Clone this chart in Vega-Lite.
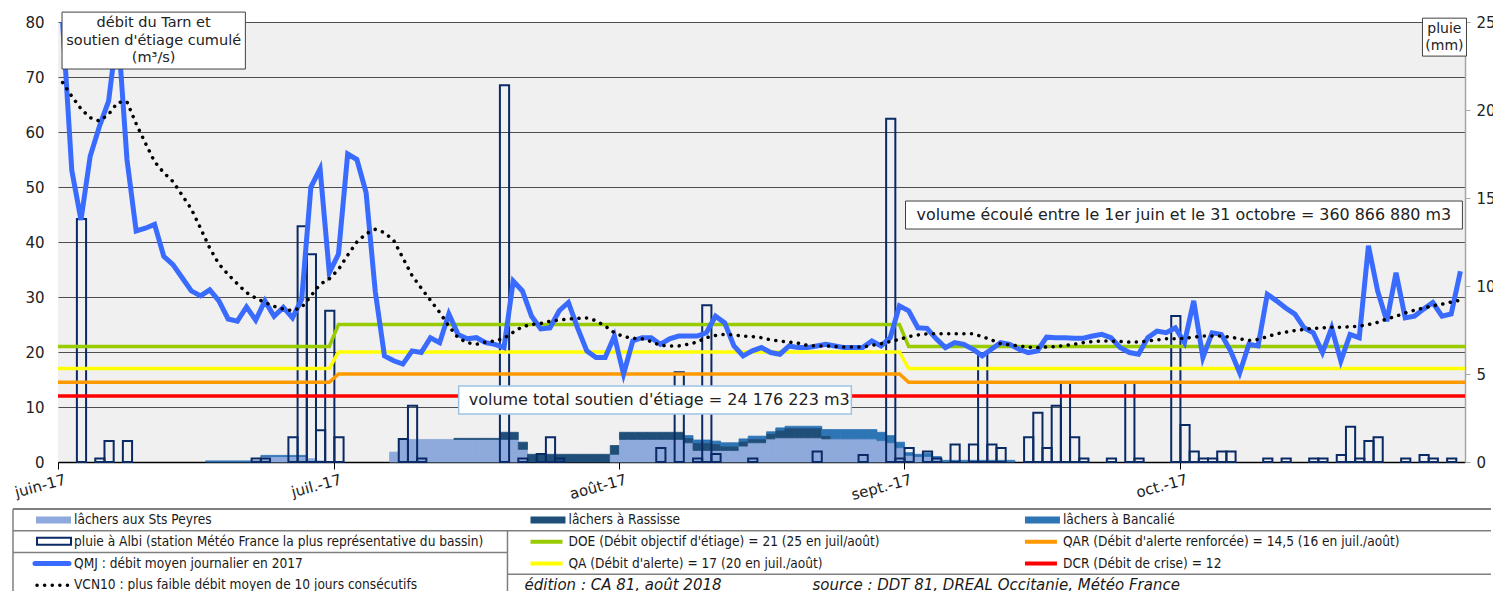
{
  "$schema": "https://vega.github.io/schema/vega-lite/v6.json",
  "padding": {"left": 12, "top": 11, "right": 0, "bottom": 0},
  "config": {"view": {"stroke": null}, "font": "DejaVu Sans", "axis": {"labelFont": "DejaVu Sans", "labelColor": "#222222"}},
  "resolve": {"scale": {"color": "independent"}},
  "datasets": {
    "daily": [
      {"d": "2017-06-01", "qmj": 80, "vcn": 69},
      {"d": "2017-06-02", "qmj": 53, "vcn": 66.5},
      {"d": "2017-06-03", "qmj": 44, "vcn": 64.2, "pluie": 13.8},
      {"d": "2017-06-04", "qmj": 55.6, "vcn": 62.6},
      {"d": "2017-06-05", "qmj": 61, "vcn": 62, "pluie": 0.2},
      {"d": "2017-06-06", "qmj": 65.6, "vcn": 63.2, "pluie": 1.2},
      {"d": "2017-06-07", "qmj": 79, "vcn": 65.4},
      {"d": "2017-06-08", "qmj": 55, "vcn": 65.5, "pluie": 1.2},
      {"d": "2017-06-09", "qmj": 42, "vcn": 61.5},
      {"d": "2017-06-10", "qmj": 42.5, "vcn": 58},
      {"d": "2017-06-11", "qmj": 43.2, "vcn": 54.6},
      {"d": "2017-06-12", "qmj": 37.4, "vcn": 52.6},
      {"d": "2017-06-13", "qmj": 35.9, "vcn": 51},
      {"d": "2017-06-14", "qmj": 33.5, "vcn": 48.5},
      {"d": "2017-06-15", "qmj": 31.1, "vcn": 46},
      {"d": "2017-06-16", "qmj": 30.2, "vcn": 42.5},
      {"d": "2017-06-17", "qmj": 31.3, "vcn": 38.9, "ban": 0.2},
      {"d": "2017-06-18", "qmj": 29.3, "vcn": 36, "ban": 0.2},
      {"d": "2017-06-19", "qmj": 26, "vcn": 34.1, "ban": 0.2},
      {"d": "2017-06-20", "qmj": 25.6, "vcn": 32.4, "ban": 0.2},
      {"d": "2017-06-21", "qmj": 28.2, "vcn": 30.8, "ban": 0.2},
      {"d": "2017-06-22", "qmj": 25.8, "vcn": 29.8, "pluie": 0.2, "ban": 0.2},
      {"d": "2017-06-23", "qmj": 29.3, "vcn": 29, "pluie": 0.2, "sp": 1.0, "ban": 0.2},
      {"d": "2017-06-24", "qmj": 26.5, "vcn": 28.3, "sp": 1.0, "ban": 0.2},
      {"d": "2017-06-25", "qmj": 28.1, "vcn": 27.8, "sp": 1.0, "ban": 0.2},
      {"d": "2017-06-26", "qmj": 26.2, "vcn": 27.5, "pluie": 1.4, "sp": 1.0, "ban": 0.2},
      {"d": "2017-06-27", "qmj": 29.6, "vcn": 28.1, "pluie": 13.4, "sp": 1.0, "ban": 0.2},
      {"d": "2017-06-28", "qmj": 50, "vcn": 30.2, "pluie": 11.8, "sp": 0.6},
      {"d": "2017-06-29", "qmj": 53.3, "vcn": 32.3, "pluie": 1.8, "sp": 0.2},
      {"d": "2017-06-30", "qmj": 34.4, "vcn": 33.3, "pluie": 8.6},
      {"d": "2017-07-01", "qmj": 37.8, "vcn": 35, "pluie": 1.4},
      {"d": "2017-07-02", "qmj": 56, "vcn": 37.6},
      {"d": "2017-07-03", "qmj": 55, "vcn": 40},
      {"d": "2017-07-04", "qmj": 49, "vcn": 41.5},
      {"d": "2017-07-05", "qmj": 31, "vcn": 42.3},
      {"d": "2017-07-06", "qmj": 19.3, "vcn": 41.7},
      {"d": "2017-07-07", "qmj": 18.4, "vcn": 40.3, "sp": 1.8},
      {"d": "2017-07-08", "qmj": 17.8, "vcn": 37.1, "pluie": 1.3, "sp": 4.1},
      {"d": "2017-07-09", "qmj": 20.2, "vcn": 33.9, "pluie": 3.2, "sp": 4.1},
      {"d": "2017-07-10", "qmj": 19.9, "vcn": 31.6, "pluie": 0.2, "sp": 4.1},
      {"d": "2017-07-11", "qmj": 22.6, "vcn": 29.4, "sp": 4.1},
      {"d": "2017-07-12", "qmj": 21.7, "vcn": 27.2, "sp": 4.1},
      {"d": "2017-07-13", "qmj": 26.9, "vcn": 24.7, "sp": 4.1},
      {"d": "2017-07-14", "qmj": 23.2, "vcn": 22.6, "sp": 4.1, "ras": 0.2},
      {"d": "2017-07-15", "qmj": 22.4, "vcn": 21.7, "sp": 4.1, "ras": 0.2},
      {"d": "2017-07-16", "qmj": 22.6, "vcn": 21.4, "sp": 4.1, "ras": 0.2},
      {"d": "2017-07-17", "qmj": 21.7, "vcn": 21.8, "sp": 4.1, "ras": 0.2},
      {"d": "2017-07-18", "qmj": 21.4, "vcn": 22, "sp": 4.1, "ras": 0.2},
      {"d": "2017-07-19", "qmj": 20.8, "vcn": 22.5, "pluie": 21.4, "sp": 4.1, "ras": 1.3},
      {"d": "2017-07-20", "qmj": 32.9, "vcn": 23.6, "sp": 4.1, "ras": 1.3},
      {"d": "2017-07-21", "qmj": 31.1, "vcn": 24.6, "pluie": 0.2, "sp": 2.3, "ras": 1.3},
      {"d": "2017-07-22", "qmj": 26.5, "vcn": 25, "ras": 1.4},
      {"d": "2017-07-23", "qmj": 24.2, "vcn": 25.2, "pluie": 0.45, "ras": 1.4},
      {"d": "2017-07-24", "qmj": 24.4, "vcn": 25.6, "pluie": 1.4, "ras": 1.4},
      {"d": "2017-07-25", "qmj": 27.5, "vcn": 25.8, "pluie": 0.2, "ras": 1.4},
      {"d": "2017-07-26", "qmj": 29, "vcn": 26, "ras": 1.4},
      {"d": "2017-07-27", "qmj": 24.4, "vcn": 26.1, "ras": 1.4},
      {"d": "2017-07-28", "qmj": 20.2, "vcn": 26.2, "ras": 1.4},
      {"d": "2017-07-29", "qmj": 19, "vcn": 25.7, "ras": 1.4},
      {"d": "2017-07-30", "qmj": 19, "vcn": 24.7, "ras": 1.4},
      {"d": "2017-07-31", "qmj": 22.9, "vcn": 23.5, "sp": 1.4, "ras": 1.6},
      {"d": "2017-08-01", "qmj": 16, "vcn": 22.8, "sp": 4.1, "ras": 1.3},
      {"d": "2017-08-02", "qmj": 22, "vcn": 22.5, "sp": 4.1, "ras": 1.3},
      {"d": "2017-08-03", "qmj": 22.6, "vcn": 22.4, "sp": 4.1, "ras": 1.3},
      {"d": "2017-08-04", "qmj": 22.6, "vcn": 21.9, "sp": 4.1, "ras": 1.3},
      {"d": "2017-08-05", "qmj": 21.4, "vcn": 21.2, "pluie": 0.8, "sp": 4.1, "ras": 1.3},
      {"d": "2017-08-06", "qmj": 22.4, "vcn": 21.1, "sp": 4.1, "ras": 1.3},
      {"d": "2017-08-07", "qmj": 22.9, "vcn": 21.1, "pluie": 5.1, "sp": 4.1, "ras": 1.3},
      {"d": "2017-08-08", "qmj": 22.9, "vcn": 21.4, "sp": 3.5, "ras": 0.9, "ban": 0.4},
      {"d": "2017-08-09", "qmj": 22.9, "vcn": 21.8, "pluie": 0.2, "sp": 2.1, "ras": 1.4, "ban": 0.5},
      {"d": "2017-08-10", "qmj": 23.5, "vcn": 22.6, "pluie": 8.9, "sp": 2.1, "ras": 1.4, "ban": 0.5},
      {"d": "2017-08-11", "qmj": 26.5, "vcn": 23, "pluie": 0.45, "sp": 2.1, "ras": 1.2, "ban": 0.5},
      {"d": "2017-08-12", "qmj": 25.3, "vcn": 23.2, "sp": 2.1, "ras": 0.8, "ban": 0.6},
      {"d": "2017-08-13", "qmj": 21.1, "vcn": 23.1, "sp": 2.1, "ras": 0.8, "ban": 0.6},
      {"d": "2017-08-14", "qmj": 19.3, "vcn": 22.9, "sp": 2.9, "ras": 0.9, "ban": 0.4},
      {"d": "2017-08-15", "qmj": 20.2, "vcn": 22.8, "pluie": 0.2, "sp": 3.5, "ras": 0.7, "ban": 0.5},
      {"d": "2017-08-16", "qmj": 20.8, "vcn": 22.6, "sp": 3.5, "ras": 0.7, "ban": 0.5},
      {"d": "2017-08-17", "qmj": 19.9, "vcn": 22.2, "sp": 4.2, "ras": 1.0, "ban": 0.3},
      {"d": "2017-08-18", "qmj": 19.6, "vcn": 22, "sp": 4.4, "ras": 1.4, "ban": 0.4},
      {"d": "2017-08-19", "qmj": 21.1, "vcn": 21.8, "sp": 4.4, "ras": 1.8, "ban": 0.3},
      {"d": "2017-08-20", "qmj": 20.8, "vcn": 21.6, "sp": 4.4, "ras": 1.8, "ban": 0.3},
      {"d": "2017-08-21", "qmj": 20.8, "vcn": 21.2, "sp": 4.4, "ras": 1.8, "ban": 0.3},
      {"d": "2017-08-22", "qmj": 21.1, "vcn": 21.1, "pluie": 0.6, "sp": 4.4, "ras": 1.8, "ban": 0.3},
      {"d": "2017-08-23", "qmj": 21.4, "vcn": 21.1, "sp": 4.2, "ras": 0.6, "ban": 1.1},
      {"d": "2017-08-24", "qmj": 21.1, "vcn": 21, "sp": 4.2, "ban": 1.7},
      {"d": "2017-08-25", "qmj": 20.8, "vcn": 20.9, "sp": 4.2, "ban": 1.7},
      {"d": "2017-08-26", "qmj": 20.8, "vcn": 20.9, "sp": 4.2, "ban": 1.7},
      {"d": "2017-08-27", "qmj": 20.8, "vcn": 20.9, "pluie": 0.4, "sp": 4.2, "ban": 1.7},
      {"d": "2017-08-28", "qmj": 22, "vcn": 21.2, "sp": 4.2, "ban": 1.7},
      {"d": "2017-08-29", "qmj": 21.1, "vcn": 21.5, "sp": 3.9, "ban": 1.5},
      {"d": "2017-08-30", "qmj": 22.6, "vcn": 21.9, "pluie": 19.5, "sp": 3.5, "ban": 1.3},
      {"d": "2017-08-31", "qmj": 28.4, "vcn": 22.3, "pluie": 0.2, "sp": 2.6, "ban": 1.0},
      {"d": "2017-09-01", "qmj": 27.5, "vcn": 22.8, "pluie": 0.8, "sp": 1.2, "ban": 0.5},
      {"d": "2017-09-02", "qmj": 24.4, "vcn": 23.1, "sp": 1.0, "ban": 0.4},
      {"d": "2017-09-03", "qmj": 24.3, "vcn": 23.3, "pluie": 0.6, "sp": 1.0, "ban": 0.6},
      {"d": "2017-09-04", "qmj": 22.4, "vcn": 23.3, "pluie": 0.2, "sp": 0.6, "ban": 0.4},
      {"d": "2017-09-05", "qmj": 20.8, "vcn": 23.3, "ban": 0.3},
      {"d": "2017-09-06", "qmj": 21.7, "vcn": 23.3, "pluie": 1.0, "ban": 0.3},
      {"d": "2017-09-07", "qmj": 21.4, "vcn": 23.3, "ban": 0.3},
      {"d": "2017-09-08", "qmj": 20.5, "vcn": 23.3, "pluie": 1.0, "ban": 0.3},
      {"d": "2017-09-09", "qmj": 19.3, "vcn": 22.8, "pluie": 6.2, "ban": 0.3},
      {"d": "2017-09-10", "qmj": 20.5, "vcn": 22.2, "pluie": 1.0, "ban": 0.3},
      {"d": "2017-09-11", "qmj": 21.7, "vcn": 21.5, "pluie": 0.8, "ban": 0.3},
      {"d": "2017-09-12", "qmj": 21.4, "vcn": 21.3, "ban": 0.3},
      {"d": "2017-09-13", "qmj": 20.5, "vcn": 21.1},
      {"d": "2017-09-14", "qmj": 19.9, "vcn": 20.9, "pluie": 1.4},
      {"d": "2017-09-15", "qmj": 20.2, "vcn": 20.8, "pluie": 2.8},
      {"d": "2017-09-16", "qmj": 22.7, "vcn": 20.9, "pluie": 0.8},
      {"d": "2017-09-17", "qmj": 22.6, "vcn": 21, "pluie": 3.2},
      {"d": "2017-09-18", "qmj": 22.6, "vcn": 21.2, "pluie": 4.5},
      {"d": "2017-09-19", "qmj": 22.5, "vcn": 21.4, "pluie": 1.4},
      {"d": "2017-09-20", "qmj": 22.5, "vcn": 21.7, "pluie": 0.2},
      {"d": "2017-09-21", "qmj": 22.9, "vcn": 21.9},
      {"d": "2017-09-22", "qmj": 23.2, "vcn": 22},
      {"d": "2017-09-23", "qmj": 22.6, "vcn": 22, "pluie": 0.2},
      {"d": "2017-09-24", "qmj": 20.8, "vcn": 21.9},
      {"d": "2017-09-25", "qmj": 19.9, "vcn": 21.8, "pluie": 4.5},
      {"d": "2017-09-26", "qmj": 19.6, "vcn": 21.8, "pluie": 0.2},
      {"d": "2017-09-27", "qmj": 22.6, "vcn": 22},
      {"d": "2017-09-28", "qmj": 23.8, "vcn": 22.2},
      {"d": "2017-09-29", "qmj": 23.5, "vcn": 22.4},
      {"d": "2017-09-30", "qmj": 24.4, "vcn": 22.4, "pluie": 8.3},
      {"d": "2017-10-01", "qmj": 21.7, "vcn": 22.5, "pluie": 2.1},
      {"d": "2017-10-02", "qmj": 29.3, "vcn": 22.7, "pluie": 0.6},
      {"d": "2017-10-03", "qmj": 19, "vcn": 22.9, "pluie": 0.2},
      {"d": "2017-10-04", "qmj": 23.5, "vcn": 22.9, "pluie": 0.2},
      {"d": "2017-10-05", "qmj": 23.2, "vcn": 22.9, "pluie": 0.6},
      {"d": "2017-10-06", "qmj": 20.2, "vcn": 22.7, "pluie": 0.6},
      {"d": "2017-10-07", "qmj": 16.2, "vcn": 22.4},
      {"d": "2017-10-08", "qmj": 21.4, "vcn": 22.1},
      {"d": "2017-10-09", "qmj": 21.1, "vcn": 22.3},
      {"d": "2017-10-10", "qmj": 30.5, "vcn": 22.8, "pluie": 0.2},
      {"d": "2017-10-11", "qmj": 29.3, "vcn": 23.3},
      {"d": "2017-10-12", "qmj": 28, "vcn": 23.6, "pluie": 0.2},
      {"d": "2017-10-13", "qmj": 26.9, "vcn": 23.9},
      {"d": "2017-10-14", "qmj": 24.4, "vcn": 24.1},
      {"d": "2017-10-15", "qmj": 23.5, "vcn": 24.3, "pluie": 0.2},
      {"d": "2017-10-16", "qmj": 19.9, "vcn": 24.4, "pluie": 0.2},
      {"d": "2017-10-17", "qmj": 24.4, "vcn": 24.5},
      {"d": "2017-10-18", "qmj": 18.4, "vcn": 24.5, "pluie": 0.4},
      {"d": "2017-10-19", "qmj": 23.2, "vcn": 24.6, "pluie": 2.0},
      {"d": "2017-10-20", "qmj": 22.6, "vcn": 24.7, "pluie": 0.2},
      {"d": "2017-10-21", "qmj": 39.3, "vcn": 25, "pluie": 1.2},
      {"d": "2017-10-22", "qmj": 31.1, "vcn": 25.4, "pluie": 1.4},
      {"d": "2017-10-23", "qmj": 25.6, "vcn": 26},
      {"d": "2017-10-24", "qmj": 34.4, "vcn": 26.5},
      {"d": "2017-10-25", "qmj": 26.2, "vcn": 27.1, "pluie": 0.2},
      {"d": "2017-10-26", "qmj": 26.5, "vcn": 27.6},
      {"d": "2017-10-27", "qmj": 27.8, "vcn": 28, "pluie": 0.4},
      {"d": "2017-10-28", "qmj": 29, "vcn": 28.4, "pluie": 0.2},
      {"d": "2017-10-29", "qmj": 26.5, "vcn": 28.7},
      {"d": "2017-10-30", "qmj": 26.9, "vcn": 29.1, "pluie": 0.2},
      {"d": "2017-10-31", "qmj": 34.7, "vcn": 29.4}
    ],
    "seuils": [
      {"d": "2017-06-01T00:00:00Z", "doe": 21, "qa": 17, "qar": 14.5, "dcr": 12},
      {"d": "2017-06-30T12:00:00Z", "doe": 21, "qa": 17, "qar": 14.5, "dcr": 12},
      {"d": "2017-07-01T12:00:00Z", "doe": 25, "qa": 20, "qar": 16, "dcr": 12},
      {"d": "2017-08-31T12:00:00Z", "doe": 25, "qa": 20, "qar": 16, "dcr": 12},
      {"d": "2017-09-01T12:00:00Z", "doe": 21, "qa": 17, "qar": 14.5, "dcr": 12},
      {"d": "2017-11-01T00:00:00Z", "doe": 21, "qa": 17, "qar": 14.5, "dcr": 12}
    ],
    "legende": [
      {"col": 0, "row": 0, "serie": "sp", "label": "lâchers aux Sts Peyres"},
      {"col": 1, "row": 0, "serie": "ras", "label": "lâchers à Rassisse"},
      {"col": 2, "row": 0, "serie": "ban", "label": "lâchers à Bancalié"},
      {"col": 0, "row": 1, "serie": "pluie", "label": "pluie à Albi (station Météo France la plus représentative du bassin)"},
      {"col": 1, "row": 1, "serie": "doe", "label": "DOE (Débit objectif d'étiage) = 21 (25 en juil/août)"},
      {"col": 2, "row": 1, "serie": "qar", "label": "QAR (Débit d'alerte renforcée) = 14,5 (16 en juil./août)"},
      {"col": 0, "row": 2, "serie": "qmj", "label": "QMJ : débit moyen journalier en 2017"},
      {"col": 1, "row": 2, "serie": "qa", "label": "QA (Débit d'alerte) = 17 (20 en juil./août)"},
      {"col": 2, "row": 2, "serie": "dcr", "label": "DCR (Débit de crise) = 12"},
      {"col": 0, "row": 3, "serie": "vcn10", "label": "VCN10 : plus faible débit moyen de 10 jours consécutifs"},
      {"col": 1, "row": 3, "serie": "edition", "label": "édition : CA 81, août 2018"},
      {"col": 1, "row": 3, "serie": "source", "label": "source : DDT 81, DREAL Occitanie, Météo France"}
    ]
  },
  "vconcat": [
    {
      "width": 1407,
      "height": 440,
      "view": {"fill": "#F0F0F0", "stroke": null},
      "resolve": {"scale": {"y": "independent"}},
      "layer": [
        {
          "data": {"name": "daily"},
          "transform": [
            {"fold": ["sp", "ras", "ban"], "as": ["serie", "val"]},
            {"filter": "datum.val > 0"}
          ],
          "mark": {"type": "bar", "binSpacing": 0, "strokeWidth": 0.8},
          "encoding": {
            "x": {
              "field": "d", "type": "temporal", "timeUnit": "utcyearmonthdate",
              "scale": {"type": "utc", "domain": [{"year": 2017, "month": 6, "date": 1, "utc": true}, {"year": 2017, "month": 11, "date": 1, "utc": true}]},
              "axis": {
                "title": null,
                "values": [
                  {"year": 2017, "month": 6, "date": 1, "utc": true},
                  {"year": 2017, "month": 7, "date": 1, "utc": true},
                  {"year": 2017, "month": 8, "date": 1, "utc": true},
                  {"year": 2017, "month": 9, "date": 1, "utc": true},
                  {"year": 2017, "month": 10, "date": 1, "utc": true}
                ],
                "labelExpr": "['janv.','févr.','mars','avr.','mai','juin','juil.','août','sept.','oct.','nov.','déc.'][utcmonth(datum.value)] + '-17'",
                "labelAngle": -15,
                "labelAlign": "right",
                "labelBaseline": "top",
                "labelFontSize": 15,
                "labelPadding": 3,
                "labelOffset": 5,
                "labelOverlap": false,
                "tickSize": 7,
                "tickColor": "#000000",
                "domainColor": "#000000",
                "domainWidth": 1.5,
                "grid": false
              }
            },
            "y": {
              "field": "val", "type": "quantitative", "stack": "zero",
              "scale": {"domain": [0, 80], "nice": false},
              "axis": {
                "title": null, "orient": "left",
                "values": [0, 10, 20, 30, 40, 50, 60, 70, 80],
                "grid": true, "gridColor": "#4d4d4d", "gridWidth": 1,
                "domain": false, "ticks": false,
                "labelFontSize": 15, "labelPadding": 14,
                "minExtent": 45, "maxExtent": 45
              }
            },
            "color": {
              "field": "serie", "type": "nominal",
              "scale": {"domain": ["sp", "ras", "ban"], "range": ["#8EA9DB", "#1F4E79", "#2E75B6"]},
              "legend": null
            },
            "stroke": {
              "field": "serie", "type": "nominal",
              "scale": {"domain": ["sp", "ras", "ban"], "range": ["#8EA9DB", "#1F4E79", "#2E75B6"]},
              "legend": null
            },
            "order": {"field": "serie", "sort": "descending"}
          }
        },
        {
          "data": {"name": "daily"},
          "transform": [{"filter": "datum.pluie > 0"}],
          "mark": {"type": "bar", "binSpacing": 0, "filled": false, "color": "#0A2A66", "strokeWidth": 2},
          "encoding": {
            "x": {"field": "d", "type": "temporal", "timeUnit": "utcyearmonthdate"},
            "y": {
              "field": "pluie", "type": "quantitative",
              "scale": {"domain": [0, 25], "nice": false},
              "axis": {
                "title": null, "orient": "right",
                "values": [0, 5, 10, 15, 20, 25],
                "grid": false,
                "domain": true, "domainColor": "#A6A6A6", "domainWidth": 1.5,
                "ticks": true, "tickColor": "#A6A6A6", "tickSize": 5,
                "labelFontSize": 15, "labelPadding": 6,
                "minExtent": 24, "maxExtent": 24
              }
            }
          }
        },
        {
          "layer": [
            {
              "data": {"name": "seuils"},
              "mark": {"type": "line", "color": "#99CC00", "strokeWidth": 3.5},
              "encoding": {
                "x": {"field": "d", "type": "temporal"},
                "y": {"field": "doe", "type": "quantitative", "scale": {"domain": [0, 80], "nice": false}, "axis": null}
              }
            },
            {
              "data": {"name": "seuils"},
              "mark": {"type": "line", "color": "#FFFF00", "strokeWidth": 3.5},
              "encoding": {
                "x": {"field": "d", "type": "temporal"},
                "y": {"field": "qa", "type": "quantitative", "axis": null}
              }
            },
            {
              "data": {"name": "seuils"},
              "mark": {"type": "line", "color": "#FF9900", "strokeWidth": 3.5},
              "encoding": {
                "x": {"field": "d", "type": "temporal"},
                "y": {"field": "qar", "type": "quantitative", "axis": null}
              }
            },
            {
              "data": {"name": "seuils"},
              "mark": {"type": "line", "color": "#FF0000", "strokeWidth": 3.5},
              "encoding": {
                "x": {"field": "d", "type": "temporal"},
                "y": {"field": "dcr", "type": "quantitative", "axis": null}
              }
            },
            {
              "data": {"name": "daily"},
              "mark": {"type": "line", "color": "#3A6BFF", "strokeWidth": 5},
              "encoding": {
                "x": {"field": "d", "type": "temporal", "timeUnit": "utcyearmonthdate", "bandPosition": 0.5},
                "y": {"field": "qmj", "type": "quantitative", "axis": null}
              }
            },
            {
              "data": {"name": "daily"},
              "mark": {"type": "line", "color": "#000000", "strokeWidth": 3.5, "strokeDash": [0.1, 7.5], "strokeCap": "round"},
              "encoding": {
                "x": {"field": "d", "type": "temporal", "timeUnit": "utcyearmonthdate", "bandPosition": 0.5},
                "y": {"field": "vcn", "type": "quantitative", "axis": null}
              }
            },
            {
              "data": {"values": [{}]},
              "mark": {"type": "rect", "fill": "#FFFFFF", "stroke": "#404040", "strokeWidth": 1},
              "encoding": {
                "x": {"datum": {"year": 2017, "month": 6, "date": 1, "hours": 10, "minutes": 30, "utc": true}, "type": "temporal"},
                "x2": {"datum": {"year": 2017, "month": 6, "date": 21, "hours": 9, "utc": true}},
                "y": {"datum": 71.45, "type": "quantitative", "axis": null},
                "y2": {"datum": 81.8}
              }
            },
            {
              "data": {"values": [{}]},
              "mark": {"type": "text", "text": ["débit du Tarn et", "soutien d'étiage cumulé", "(m³/s)"], "fontSize": 14.5, "lineHeight": 17.5, "align": "center", "baseline": "middle", "color": "#222222"},
              "encoding": {
                "x": {"datum": {"year": 2017, "month": 6, "date": 11, "hours": 9, "minutes": 40, "utc": true}, "type": "temporal"},
                "y": {"datum": 79.8, "type": "quantitative", "axis": null}
              }
            },
            {
              "data": {"values": [{}]},
              "mark": {"type": "rect", "fill": "#FFFFFF", "stroke": "#404040", "strokeWidth": 1},
              "encoding": {
                "x": {"datum": {"year": 2017, "month": 10, "date": 27, "hours": 9, "utc": true}, "type": "temporal"},
                "x2": {"datum": {"year": 2017, "month": 11, "date": 1, "hours": 3, "minutes": 50, "utc": true}},
                "y": {"datum": 73.8, "type": "quantitative", "axis": null},
                "y2": {"datum": 80.7}
              }
            },
            {
              "data": {"values": [{}]},
              "mark": {"type": "text", "text": ["pluie", "(mm)"], "fontSize": 14, "lineHeight": 17, "align": "center", "baseline": "middle", "color": "#222222"},
              "encoding": {
                "x": {"datum": {"year": 2017, "month": 10, "date": 29, "hours": 18, "minutes": 15, "utc": true}, "type": "temporal"},
                "y": {"datum": 78.7, "type": "quantitative", "axis": null}
              }
            },
            {
              "data": {"values": [{}]},
              "mark": {"type": "rect", "fill": "#FFFFFF", "stroke": "#404040", "strokeWidth": 1},
              "encoding": {
                "x": {"datum": {"year": 2017, "month": 9, "date": 1, "hours": 3, "minutes": 50, "utc": true}, "type": "temporal"},
                "x2": {"datum": {"year": 2017, "month": 10, "date": 31, "hours": 17, "minutes": 15, "utc": true}},
                "y": {"datum": 42.36, "type": "quantitative", "axis": null},
                "y2": {"datum": 47.45}
              }
            },
            {
              "data": {"values": [{}]},
              "mark": {"type": "text", "text": "volume écoulé entre le 1er juin et le 31 octobre = 360 866 880 m3", "fontSize": 15.9, "align": "left", "baseline": "middle", "color": "#222222"},
              "encoding": {
                "x": {"datum": {"year": 2017, "month": 9, "date": 2, "hours": 8, "minutes": 40, "utc": true}, "type": "temporal"},
                "y": {"datum": 44.9, "type": "quantitative", "axis": null}
              }
            },
            {
              "data": {"values": [{}]},
              "mark": {"type": "rect", "fill": "#FFFFFF", "stroke": "#9DC3E6", "strokeWidth": 1.5},
              "encoding": {
                "x": {"datum": {"year": 2017, "month": 7, "date": 14, "hours": 13, "minutes": 40, "utc": true}, "type": "temporal"},
                "x2": {"datum": {"year": 2017, "month": 8, "date": 26, "hours": 6, "minutes": 30, "utc": true}},
                "y": {"datum": 8.73, "type": "quantitative", "axis": null},
                "y2": {"datum": 13.82}
              }
            },
            {
              "data": {"values": [{}]},
              "mark": {"type": "text", "text": "volume total soutien d'étiage = 24 176 223 m3", "fontSize": 16, "align": "left", "baseline": "middle", "color": "#222222"},
              "encoding": {
                "x": {"datum": {"year": 2017, "month": 7, "date": 15, "hours": 15, "minutes": 50, "utc": true}, "type": "temporal"},
                "y": {"datum": 11.27, "type": "quantitative", "axis": null}
              }
            }
          ]
        }
      ]
    },
    {
      "width": 1433,
      "height": 83,
      "layer": [
        {
          "data": {"values": [{}]},
          "mark": {"type": "rule", "color": "#7F7F7F", "strokeWidth": 2},
          "encoding": {
            "x": {"datum": 0, "type": "quantitative", "scale": {"domain": [0.091, 2.989], "nice": false, "zero": false}, "axis": null},
            "x2": {"datum": 2.989},
            "y": {"datum": 0, "type": "quantitative", "scale": {"domain": [0, 3.816], "nice": false, "reverse": true}, "axis": null}
          }
        },
        {
          "data": {"values": [{}]},
          "mark": {"type": "rule", "color": "#7F7F7F", "strokeWidth": 1.5},
          "encoding": {"x": {"datum": 0, "type": "quantitative"}, "x2": {"datum": 2.989}, "y": {"datum": 1, "type": "quantitative"}}
        },
        {
          "data": {"values": [{}]},
          "mark": {"type": "rule", "color": "#7F7F7F", "strokeWidth": 1.5},
          "encoding": {"x": {"datum": 0, "type": "quantitative"}, "x2": {"datum": 1}, "y": {"datum": 2, "type": "quantitative"}}
        },
        {
          "data": {"values": [{}]},
          "mark": {"type": "rule", "color": "#7F7F7F", "strokeWidth": 1.5},
          "encoding": {"x": {"datum": 1, "type": "quantitative"}, "x2": {"datum": 2.989}, "y": {"datum": 3, "type": "quantitative"}}
        },
        {
          "data": {"values": [{}]},
          "mark": {"type": "rule", "color": "#7F7F7F", "strokeWidth": 1.5},
          "encoding": {"x": {"datum": 0, "type": "quantitative"}, "y": {"datum": 0, "type": "quantitative"}, "y2": {"datum": 3.816}}
        },
        {
          "data": {"values": [{}]},
          "mark": {"type": "rule", "color": "#7F7F7F", "strokeWidth": 1.5},
          "encoding": {"x": {"datum": 1, "type": "quantitative"}, "y": {"datum": 1, "type": "quantitative"}, "y2": {"datum": 3.816}}
        },
        {
          "data": {"name": "legende"},
          "transform": [{"filter": {"field": "serie", "oneOf": ["sp", "ras", "ban"]}}],
          "mark": {"type": "rect", "xOffset": 23, "x2Offset": 58, "yOffset": 7.5, "y2Offset": 14.5},
          "encoding": {
            "x": {"field": "col", "type": "quantitative"},
            "x2": {"field": "col"},
            "y": {"field": "row", "type": "quantitative"},
            "y2": {"field": "row"},
            "color": {"field": "serie", "type": "nominal", "scale": {"domain": ["sp", "ras", "ban", "doe", "qar", "qmj", "qa", "dcr"], "range": ["#8EA9DB", "#1F4E79", "#2E75B6", "#99CC00", "#FF9900", "#3A6BFF", "#FFFF00", "#FF0000"]}, "legend": null}
          }
        },
        {
          "data": {"name": "legende"},
          "transform": [{"filter": "datum.serie == 'pluie'"}],
          "mark": {"type": "rect", "filled": false, "color": "#0A2A66", "strokeWidth": 2, "xOffset": 24, "x2Offset": 58, "yOffset": 7, "y2Offset": 14},
          "encoding": {
            "x": {"field": "col", "type": "quantitative"},
            "x2": {"field": "col"},
            "y": {"field": "row", "type": "quantitative"},
            "y2": {"field": "row"}
          }
        },
        {
          "data": {"name": "legende"},
          "transform": [{"filter": {"field": "serie", "oneOf": ["doe", "qar", "qa", "dcr"]}}],
          "mark": {"type": "rule", "strokeWidth": 4, "xOffset": 23, "x2Offset": 55, "yOffset": 11},
          "encoding": {
            "x": {"field": "col", "type": "quantitative"},
            "x2": {"field": "col"},
            "y": {"field": "row", "type": "quantitative"},
            "color": {"field": "serie", "type": "nominal", "legend": null}
          }
        },
        {
          "data": {"name": "legende"},
          "transform": [{"filter": "datum.serie == 'qmj'"}],
          "mark": {"type": "rule", "strokeWidth": 5, "strokeCap": "round", "xOffset": 22, "x2Offset": 56, "yOffset": 11},
          "encoding": {
            "x": {"field": "col", "type": "quantitative"},
            "x2": {"field": "col"},
            "y": {"field": "row", "type": "quantitative"},
            "color": {"field": "serie", "type": "nominal", "legend": null}
          }
        },
        {
          "data": {"name": "legende"},
          "transform": [{"filter": "datum.serie == 'vcn10'"}],
          "mark": {"type": "rule", "color": "#000000", "strokeWidth": 3.5, "strokeDash": [0.1, 7.5], "strokeCap": "round", "xOffset": 24, "x2Offset": 58, "yOffset": 11},
          "encoding": {
            "x": {"field": "col", "type": "quantitative"},
            "x2": {"field": "col"},
            "y": {"field": "row", "type": "quantitative"}
          }
        },
        {
          "data": {"name": "legende"},
          "transform": [{"filter": "datum.serie != 'edition' && datum.serie != 'source'"}],
          "mark": {"type": "text", "align": "left", "baseline": "middle", "dx": 61, "yOffset": 11, "font": "DejaVu Sans Condensed", "fontSize": 13.6, "color": "#1A1A1A"},
          "encoding": {
            "x": {"field": "col", "type": "quantitative"},
            "y": {"field": "row", "type": "quantitative"},
            "text": {"field": "label"}
          }
        },
        {
          "data": {"name": "legende"},
          "transform": [{"filter": "datum.serie == 'edition'"}],
          "mark": {"type": "text", "align": "left", "baseline": "middle", "dx": 17, "yOffset": 11, "fontStyle": "italic", "fontSize": 15, "color": "#1A1A1A"},
          "encoding": {
            "x": {"field": "col", "type": "quantitative"},
            "y": {"field": "row", "type": "quantitative"},
            "text": {"field": "label"}
          }
        },
        {
          "data": {"name": "legende"},
          "transform": [{"filter": "datum.serie == 'source'"}],
          "mark": {"type": "text", "align": "left", "baseline": "middle", "dx": 305, "yOffset": 11, "fontStyle": "italic", "fontSize": 15, "color": "#1A1A1A"},
          "encoding": {
            "x": {"field": "col", "type": "quantitative"},
            "y": {"field": "row", "type": "quantitative"},
            "text": {"field": "label"}
          }
        }
      ]
    }
  ],
  "spacing": 5
}
